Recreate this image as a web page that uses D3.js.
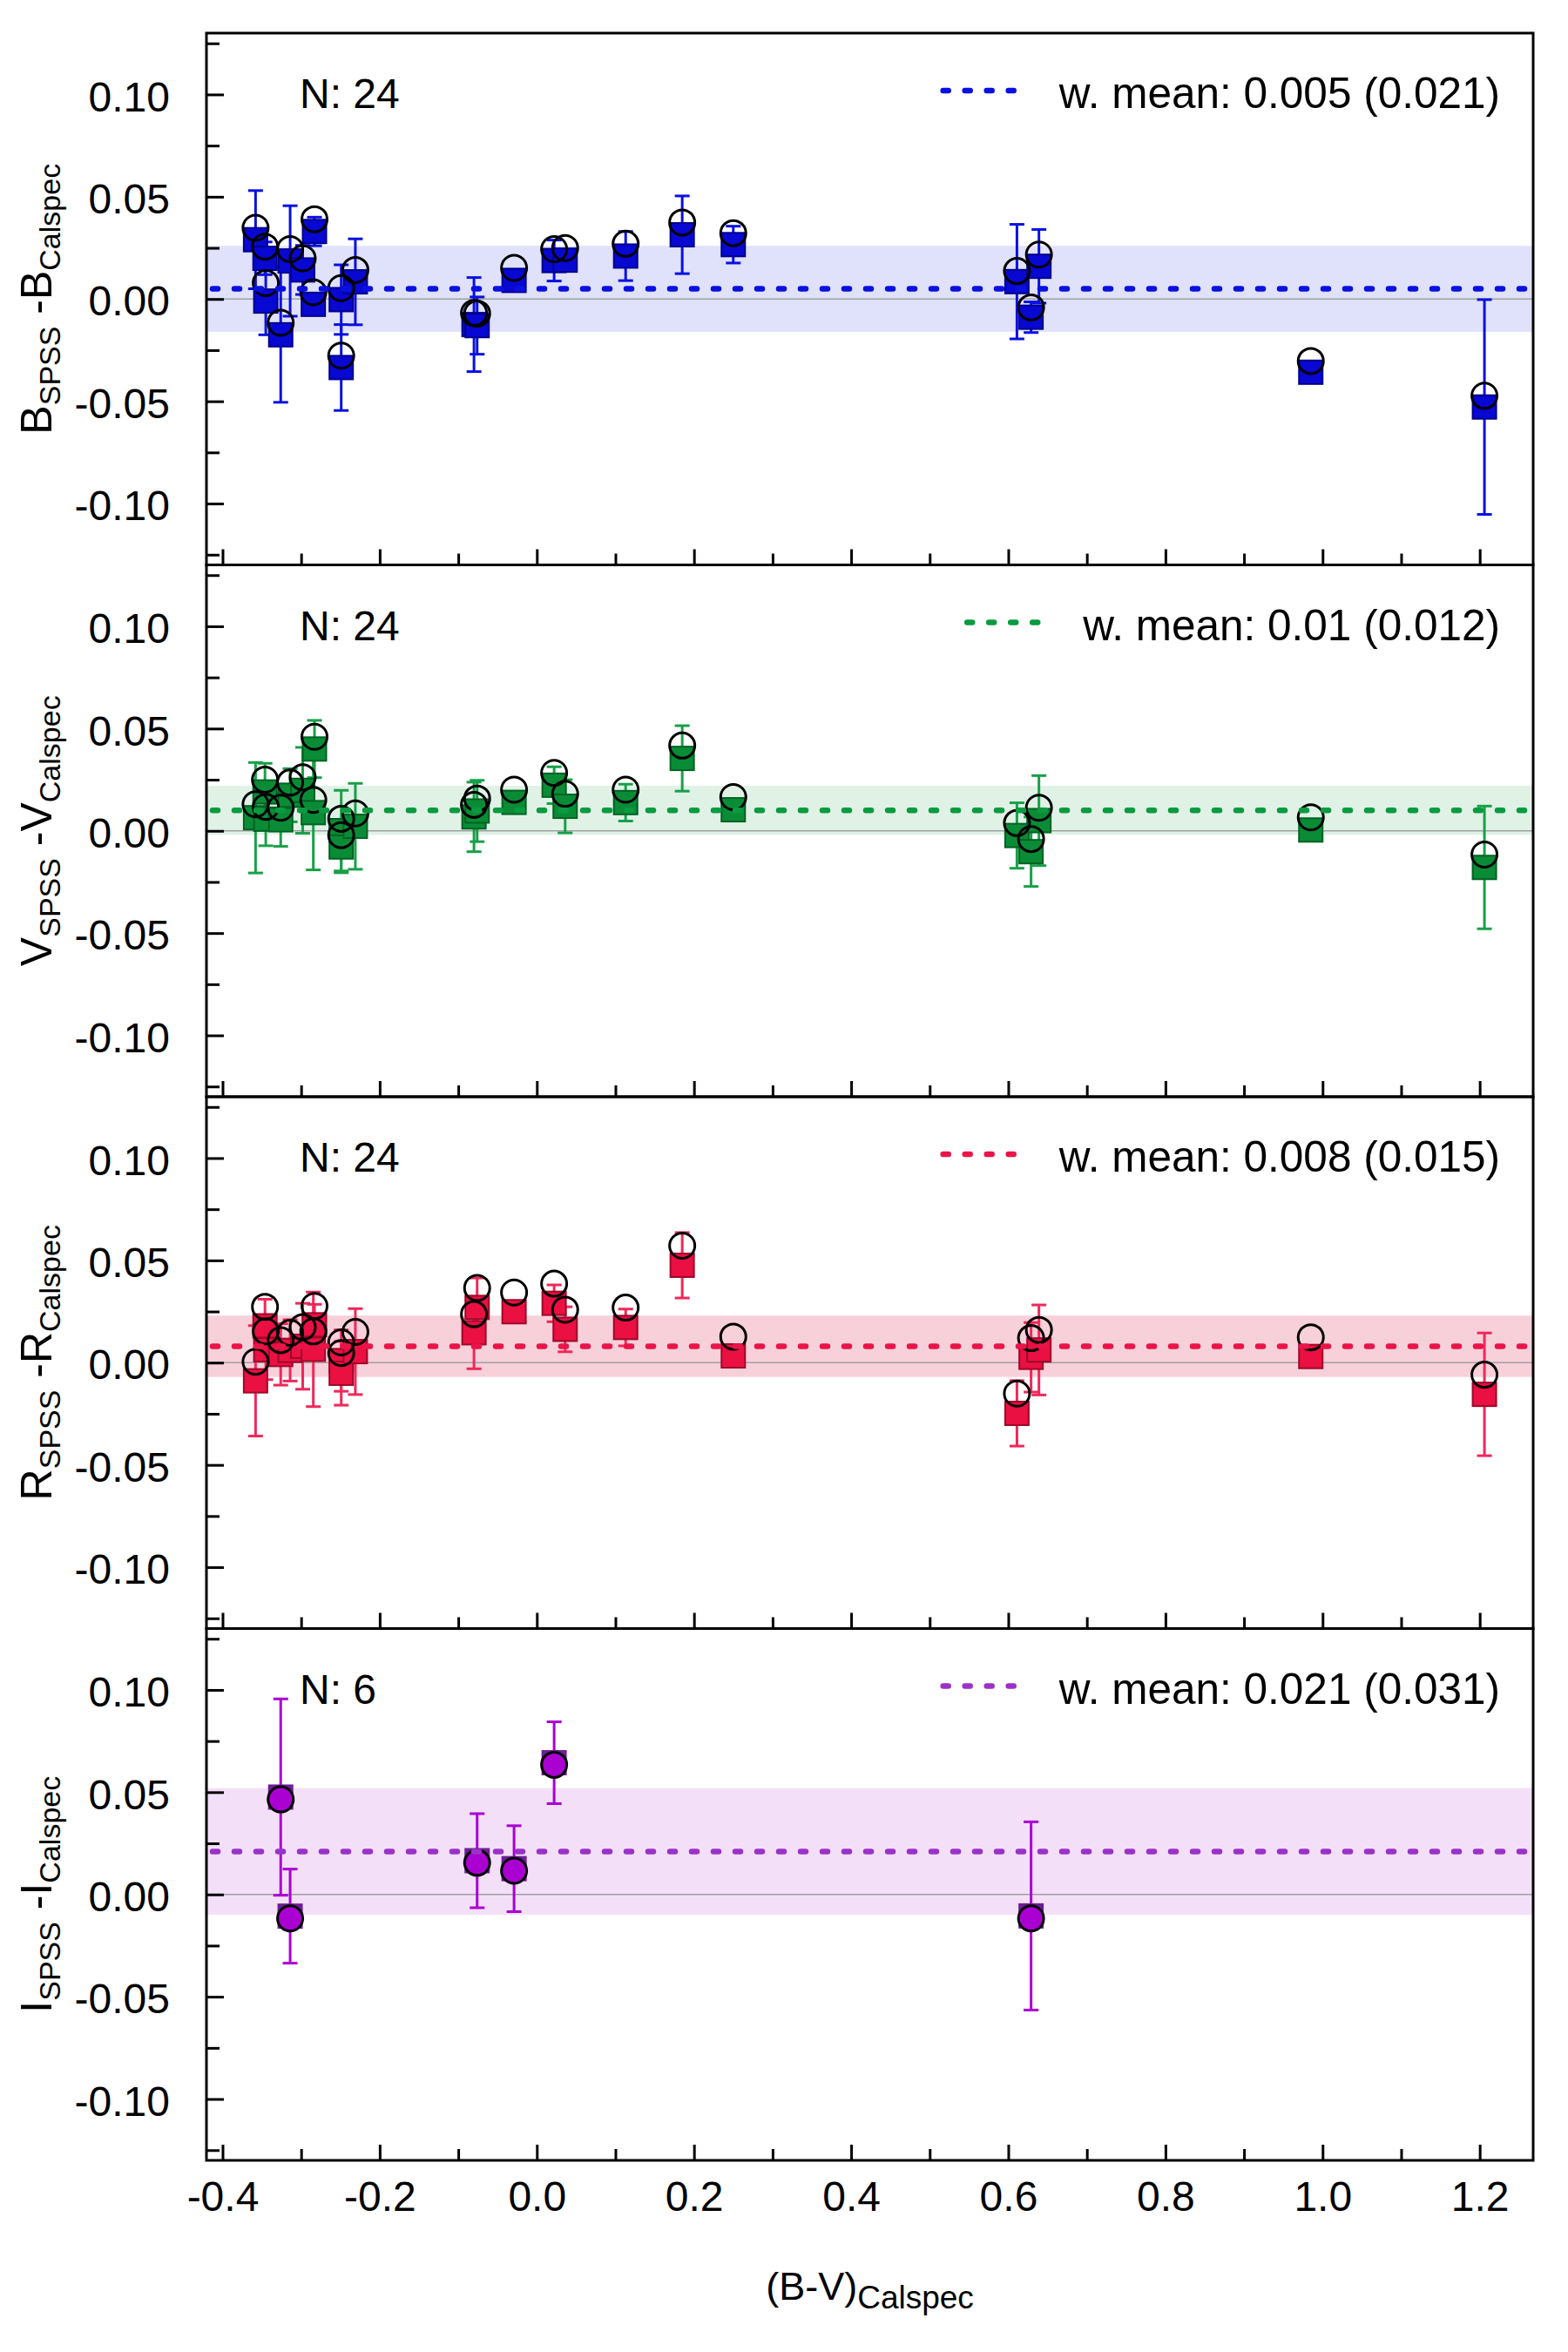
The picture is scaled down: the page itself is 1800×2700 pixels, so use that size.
<!DOCTYPE html>
<html>
<head>
<meta charset="utf-8">
<script src="https://cdn.jsdelivr.net/npm/d3@7"></script>
<style>
  body { margin: 0; background: #fff; }
  text { font-family: "Liberation Sans", Arial, Helvetica, sans-serif; }
</style>
</head>
<body>
<div id="chart"></div>
<script>
// (B-V) colour of the 24 calspec stars, and of the 6 with I photometry
const bvAll = [-0.358, -0.346, -0.345, -0.326, -0.314, -0.298, -0.283, -0.2845, -0.249, -0.249, -0.231,
               -0.080, -0.076, -0.029, 0.022, 0.036, 0.113, 0.185, 0.250,
               0.611, 0.629, 0.639, 0.985, 1.206];
const bvI = [-0.326, -0.314, -0.076, -0.029, 0.022, 0.629];

// B band: open circles, squares, error on squares
const bCirc = [0.0348, 0.0256, 0.0078, -0.0116, 0.0244, 0.0199, 0.039, 0.0033, 0.0053, -0.0277, 0.0142,
               -0.0068, -0.0071, 0.0152, 0.0244, 0.0249, 0.027, 0.0374, 0.0322,
               0.0137, -0.0041, 0.0217, -0.0303, -0.0473];
const bSq   = [0.029, 0.0199, -0.001, -0.0175, 0.0186, 0.0142, 0.033, -0.0026, -0.0003, -0.0335, 0.0084,
               -0.0125, -0.013, 0.0091, 0.0188, 0.019, 0.021, 0.0314, 0.0266,
               0.0085, -0.0089, 0.016, -0.0358, -0.0528];
const bErr  = [0.024, 0.008, 0.0165, 0.033, 0.027, 0.012, 0.007, 0.004, 0.017, 0.021, 0.021,
               0.023, 0.014, 0.003, 0.010, 0.004, 0.012, 0.019, 0.009,
               0.028, 0.0075, 0.018, 0.003, 0.0525];

// V band
const vCirc = [0.013, 0.025, 0.0117, 0.0113, 0.0236, 0.0262, 0.046, 0.0151, 0.0059, -0.0021, 0.0085,
               0.0127, 0.0158, 0.0201, 0.0283, 0.0181, 0.0201, 0.0417, 0.0165,
               0.0038, -0.004, 0.0113, 0.0066, -0.0116];
const vSq   = [0.0064, 0.019, 0.0057, 0.0054, 0.0174, 0.0198, 0.040, 0.0089, 0.0001, -0.0079, 0.0022,
               0.0068, 0.0097, 0.0139, 0.0223, 0.012, 0.0138, 0.0354, 0.0103,
               -0.0023, -0.0102, 0.005, 0.0004, -0.0179];
const vErr  = [0.027, 0.014, 0.013, 0.013, 0.013, 0.021, 0.014, 0.028, 0.0197, 0.0126, 0.021,
               0.017, 0.015, 0.003, 0.009, 0.013, 0.009, 0.016, 0.003,
               0.016, 0.017, 0.022, 0.003, 0.030];

// R band
const rCirc = [0.0004, 0.0273, 0.0153, 0.011, 0.0146, 0.0174, 0.0277, 0.0153, 0.0099, 0.0047, 0.015,
               0.0237, 0.0365, 0.0343, 0.0386, 0.0259, 0.0269, 0.0572, 0.0127,
               -0.0151, 0.012, 0.016, 0.0124, -0.0059];
const rSq   = [-0.0089, 0.018, 0.0063, 0.004, 0.006, 0.008, 0.0185, 0.0065, 0.001, -0.0052, 0.0054,
               0.0146, 0.027, 0.0249, 0.029, 0.0163, 0.0172, 0.0476, 0.0033,
               -0.0248, 0.0026, 0.0062, 0.003, -0.0155];
const rErr  = [0.027, 0.013, 0.0146, 0.015, 0.015, 0.021, 0.010, 0.028, 0.015, 0.0156, 0.021,
               0.0176, 0.0144, 0.003, 0.009, 0.011, 0.009, 0.016, 0.003,
               0.016, 0.017, 0.022, 0.003, 0.030];

// I band (6 stars)
const iCirc = [0.0465, -0.0117, 0.0155, 0.0116, 0.0634, -0.0117];
const iSq   = [0.0476, -0.0106, 0.0165, 0.0126, 0.0644, -0.0105];
const iErr  = [0.048, 0.023, 0.023, 0.021, 0.020, 0.046];

const bands = ["B", "V", "R", "I"];
const wMean = [0.005, 0.01, 0.008, 0.021];
const wSd = [0.021, 0.012, 0.015, 0.031];
const meanLabels = ["0.005 (0.021)", "0.01 (0.012)", "0.008 (0.015)", "0.021 (0.031)"];
const xTicks = [-0.4, -0.2, 0.0, 0.2, 0.4, 0.6, 0.8, 1.0, 1.2];
const xMinor = [-0.3, -0.1, 0.1, 0.3, 0.5, 0.7, 0.9, 1.1];
const yTicks = [0.10, 0.05, 0.00, -0.05, -0.10];
const yMinor = [0.125, 0.075, 0.025, -0.025, -0.075, -0.125];

const colours = {
    B: { sq: "#0808d2", sqStroke: "#00008c", err: "#0a10e0", band: "#e0e1fa", mean: "#0a10e0" },
    V: { sq: "#0a8c36", sqStroke: "#006222", err: "#18a048", band: "#e0f2e6", mean: "#0a9a40" },
    R: { sq: "#ea1042", sqStroke: "#9e0828", err: "#f0285a", band: "#f8d0da", mean: "#ea1448" },
    I: { sq: "#6e1e96", sqStroke: "#6e1e96", err: "#aa00d2", band: "#f3e0f8", mean: "#9a32c8", circ: "#aa00d2" }
};

const panels = [
    { band: "B", x: bvAll, circ: bCirc, sq: bSq, err: bErr },
    { band: "V", x: bvAll, circ: vCirc, sq: vSq, err: vErr },
    { band: "R", x: bvAll, circ: rCirc, sq: rSq, err: rErr },
    { band: "I", x: bvI, circ: iCirc, sq: iSq, err: iErr }
];

const W = 1800, H = 2700;
const left = 237, right = 1760, top0 = 38, panelH = 610.5;

const svg = d3.select("#chart").append("svg")
    .attr("width", W).attr("height", H)
    .style("background", "#fff");

const x = d3.scaleLinear().domain([-0.4205, 1.268]).range([left, right]);

// plain hyphen for negatives, like the original
const fmt = n => v => v.toFixed(n);

panels.forEach((p, k) => {
    const top = top0 + k * panelH;
    const bottom = top + panelH;
    const c = colours[p.band];
    const y = d3.scaleLinear().domain([-0.13, 0.13]).range([bottom, top]);
    const g = svg.append("g").attr("class", "panel");

    // shaded band of +/- one sigma and zero line
    g.append("rect")
        .attr("x", left).attr("width", right - left)
        .attr("y", y(wMean[k] + wSd[k]))
        .attr("height", y(wMean[k] - wSd[k]) - y(wMean[k] + wSd[k]))
        .attr("fill", c.band);
    g.append("line")
        .attr("x1", left).attr("x2", right)
        .attr("y1", y(0)).attr("y2", y(0))
        .attr("stroke", "#a0a0a0").attr("stroke-width", 1.5);

    const pts = p.x.map((bv, i) => ({ bv: bv, c: p.circ[i], s: p.sq[i], e: p.err[i] }));

    // error bars
    const eb = g.append("g").attr("stroke", c.err).attr("stroke-width", 3);
    pts.forEach(d => {
        eb.append("line").attr("x1", x(d.bv)).attr("x2", x(d.bv))
            .attr("y1", y(d.s + d.e)).attr("y2", y(d.s - d.e));
        [d.s + d.e, d.s - d.e].forEach(v => {
            eb.append("line").attr("x1", x(d.bv) - 8.5).attr("x2", x(d.bv) + 8.5)
                .attr("y1", y(v)).attr("y2", y(v));
        });
    });

    // squares
    g.selectAll("rect.sq").data(pts).enter().append("rect")
        .attr("class", "sq")
        .attr("x", d => x(d.bv) - 13.5).attr("y", d => y(d.s) - 13.5)
        .attr("width", 27).attr("height", 27)
        .attr("fill", c.sq)
        .attr("stroke", c.sqStroke).attr("stroke-width", 2);

    // circles
    g.selectAll("circle.pt").data(pts).enter().append("circle")
        .attr("class", "pt")
        .attr("cx", d => x(d.bv)).attr("cy", d => y(d.c))
        .attr("r", 14.5)
        .attr("fill", c.circ ? c.circ : "none")
        .attr("stroke", "#000").attr("stroke-width", 3);

    // weighted mean line
    g.append("line")
        .attr("x1", left + 7).attr("x2", right - 7)
        .attr("y1", y(wMean[k])).attr("y2", y(wMean[k]))
        .attr("stroke", c.mean).attr("stroke-width", 6.5)
        .attr("stroke-linecap", "round")
        .attr("stroke-dasharray", "6,19");

    // axes: inward ticks
    const yMaj = d3.axisLeft(y).tickValues(yTicks).tickSize(-20).tickPadding(42)
        .tickFormat(fmt(2));
    const yMin = d3.axisLeft(y).tickValues(yMinor).tickSize(-15).tickFormat("");
    const ya = g.append("g").attr("transform", `translate(${left},0)`).call(yMaj);
    const yb = g.append("g").attr("transform", `translate(${left},0)`).call(yMin);

    const xMaj = d3.axisBottom(x).tickValues(xTicks).tickSize(-18).tickPadding(24)
        .tickFormat(k === 3 ? fmt(1) : "");
    const xMin = d3.axisBottom(x).tickValues(xMinor).tickSize(-13).tickFormat("");
    const xa = g.append("g").attr("transform", `translate(0,${bottom})`).call(xMaj);
    const xb = g.append("g").attr("transform", `translate(0,${bottom})`).call(xMin);

    [ya, yb, xa, xb].forEach(a => {
        a.select(".domain").remove();
        a.selectAll(".tick line").attr("stroke", "#000").attr("stroke-width", 3);
        a.selectAll(".tick text").attr("fill", "#000").style("font-size", "48px");
    });
    ya.selectAll(".tick text").attr("dy", "0.39em");

    // frame
    g.append("rect")
        .attr("x", left).attr("y", top)
        .attr("width", right - left).attr("height", panelH)
        .attr("fill", "none").attr("stroke", "#000").attr("stroke-width", 3);

    // N label
    g.append("text")
        .attr("x", 344).attr("y", top + 86)
        .style("font-size", "48px")
        .text("N: " + p.x.length);

    // legend
    const lt = g.append("text")
        .attr("x", 1722).attr("y", top + 86)
        .attr("text-anchor", "end")
        .style("font-size", "49.5px")
        .text("w. mean: " + meanLabels[k]);
    const tStart = 1722 - lt.node().getComputedTextLength();
    g.append("line")
        .attr("x1", tStart - 133).attr("x2", tStart - 52)
        .attr("y1", top + 66).attr("y2", top + 66)
        .attr("stroke", c.mean).attr("stroke-width", 6.5)
        .attr("stroke-linecap", "round")
        .attr("stroke-dasharray", "6,19");

    // y title
    const yt = g.append("text")
        .attr("transform", `translate(59,${top + panelH / 2}) rotate(-90)`)
        .attr("text-anchor", "middle")
        .style("font-size", "50px");
    yt.append("tspan").text(p.band);
    yt.append("tspan").attr("dy", 10).style("font-size", "34px").text("SPSS");
    yt.append("tspan").attr("dy", -10).text(" -" + p.band);
    yt.append("tspan").attr("dy", 10).style("font-size", "34px").text("Calspec");
});

// x title
const xt = svg.append("text")
    .attr("x", (left + right) / 2).attr("y", 2640)
    .attr("text-anchor", "middle")
    .style("font-size", "45px");
xt.append("tspan").text("(B-V)");
xt.append("tspan").attr("dy", 10).style("font-size", "37px").text("Calspec");
</script>
</body>
</html>
